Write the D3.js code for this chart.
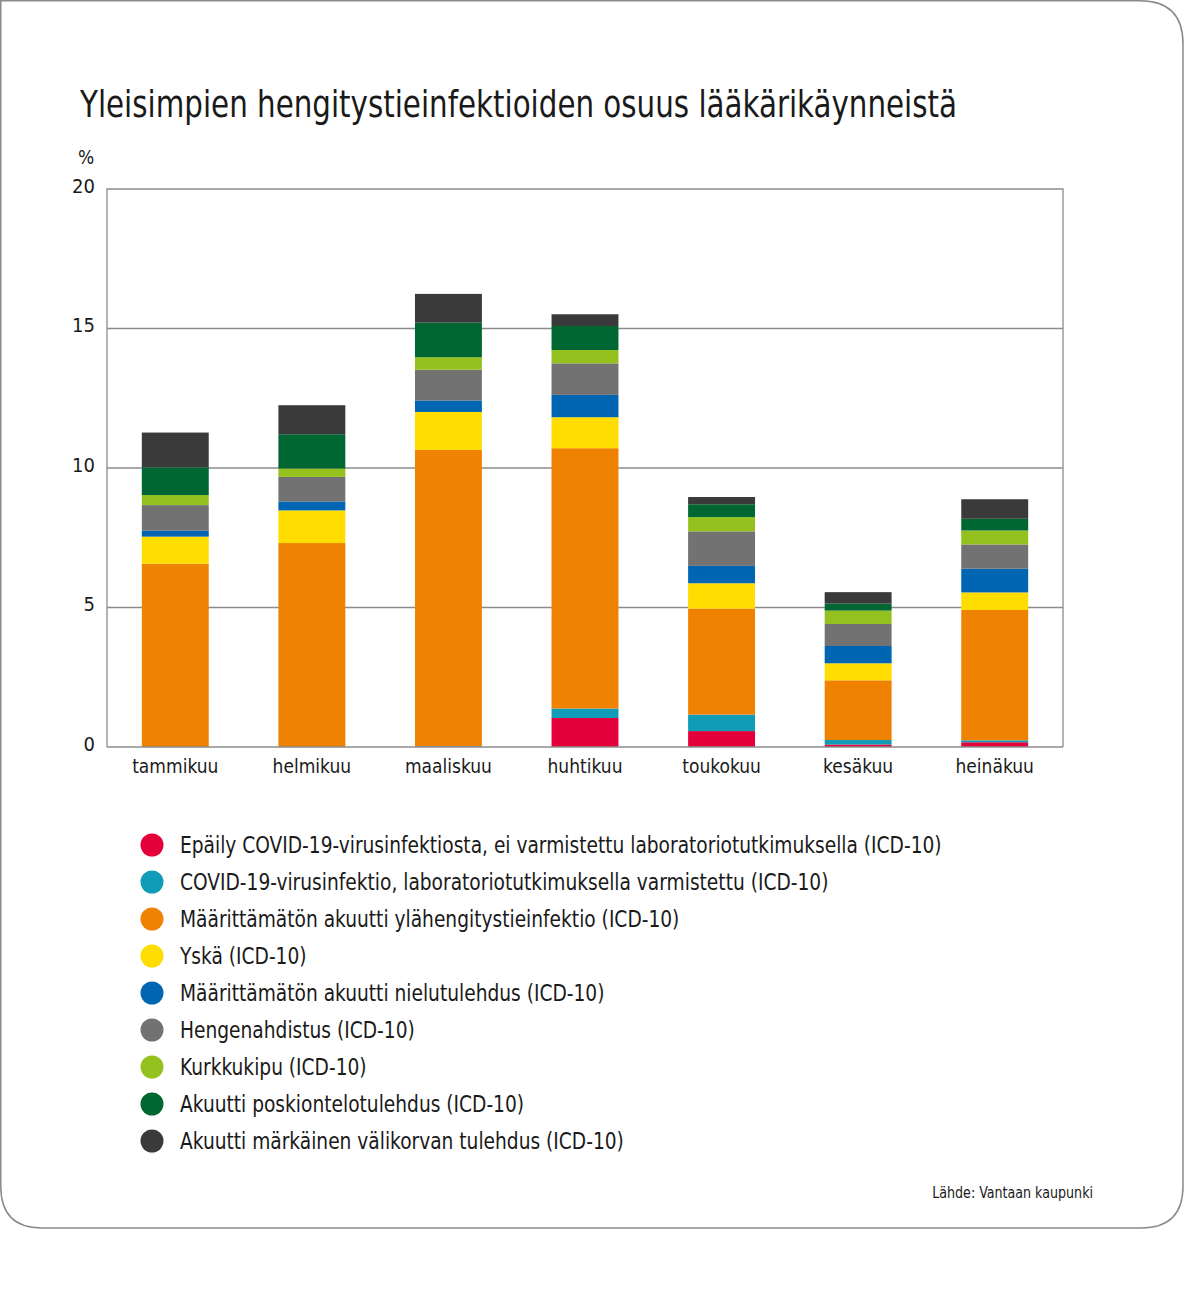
<!DOCTYPE html>
<html><head><meta charset="utf-8">
<script src="https://cdn.jsdelivr.net/npm/d3@7"></script>
<style>
body{margin:0;background:#fff;}
svg{display:block;}
text{font-family:"Liberation Sans Narrow","DejaVu Sans Condensed","Open Sans",sans-serif;fill:#1a1a1a;}
</style></head>
<body>
<svg id="chart" width="1200" height="1313"></svg>
<script>
const months = ["tammikuu","helmikuu","maaliskuu","huhtikuu","toukokuu","kesäkuu","heinäkuu"];
const seriesNames = [
  "Epäily COVID-19-virusinfektiosta, ei varmistettu laboratoriotutkimuksella (ICD-10)",
  "COVID-19-virusinfektio, laboratoriotutkimuksella varmistettu (ICD-10)",
  "Määrittämätön akuutti ylähengitystieinfektio (ICD-10)",
  "Yskä (ICD-10)",
  "Määrittämätön akuutti nielutulehdus (ICD-10)",
  "Hengenahdistus (ICD-10)",
  "Kurkkukipu (ICD-10)",
  "Akuutti poskiontelotulehdus (ICD-10)",
  "Akuutti märkäinen välikorvan tulehdus (ICD-10)"
];
const colors = ["#e4003a","#109cb6","#ef8200","#ffdd00","#0066b3","#727272","#95c11f","#006632","#3a3a3a"];
// values per series, in month order
const covidSuspected = [0, 0, 0, 1.04, 0.57, 0.09, 0.17];
const covidConfirmed = [0, 0, 0.03, 0.34, 0.59, 0.16, 0.07];
const upperResp     = [6.57, 7.31, 10.62, 9.33, 3.80, 2.14, 4.67];
const cough         = [0.97, 1.17, 1.36, 1.11, 0.91, 0.61, 0.63];
const pharyngitis   = [0.22, 0.32, 0.41, 0.80, 0.62, 0.62, 0.85];
const dyspnea       = [0.91, 0.88, 1.10, 1.13, 1.24, 0.79, 0.87];
const soreThroat    = [0.36, 0.30, 0.45, 0.48, 0.51, 0.48, 0.50];
const sinusitis     = [0.99, 1.23, 1.24, 0.86, 0.46, 0.25, 0.42];
const otitis        = [1.25, 1.04, 1.03, 0.42, 0.26, 0.41, 0.70];
const yTicks = [0, 5, 10, 15, 20];

const seriesValues = [covidSuspected, covidConfirmed, upperResp, cough, pharyngitis, dyspnea, soreThroat, sinusitis, otitis];
const keys = seriesNames.map((_, i) => "s" + i);
const table = months.map((m, j) => {
  const row = {month: m};
  keys.forEach((k, i) => row[k] = seriesValues[i][j]);
  return row;
});

const svg = d3.select("#chart");

// card
svg.append("path")
  .attr("d", "M -2 0.75 L 1140 0.75 Q 1183 0.75 1183 44 L 1183 1186 Q 1183 1228 1141 1228 L 42 1228 Q 0.75 1228 0.75 1186 L 0.75 0")
  .attr("fill", "none").attr("stroke", "#8a8a8a").attr("stroke-width", 1.5);

svg.append("text").attr("x", 80).attr("y", 117)
  .attr("font-size", 38).attr("textLength", 877).attr("lengthAdjust", "spacingAndGlyphs")
  .style("font-weight", 300)
  .text("Yleisimpien hengitystieinfektioiden osuus lääkärikäynneistä");

const pLeft = 107, pRight = 1063, pTop = 189, pBottom = 747;
const x = d3.scaleBand().domain(months).range([pLeft, pRight]).paddingInner(0.51).paddingOuter(0.255);
const y = d3.scaleLinear().domain([0, 20]).range([pBottom, pTop]);

// gridlines
svg.append("g").selectAll("line").data(yTicks.filter(t => t > 0 && t < 20)).join("line")
  .attr("x1", pLeft).attr("x2", pRight).attr("y1", d => y(d)).attr("y2", d => y(d))
  .attr("stroke", "#8c8c8c").attr("stroke-width", 1.3);

// frame
svg.append("path")
  .attr("d", `M${pLeft},${pBottom} V${pTop} H${pRight} V${pBottom}`)
  .attr("fill", "none").attr("stroke", "#8c8c8c").attr("stroke-width", 1.3);

// bars
const stacked = d3.stack().keys(keys)(table);
svg.append("g").selectAll("g").data(stacked).join("g")
  .attr("fill", (d, i) => colors[i])
  .selectAll("rect").data(d => d).join("rect")
  .attr("x", d => x(d.data.month))
  .attr("width", x.bandwidth())
  .attr("y", d => y(d[1]))
  .attr("height", d => Math.max(0, y(d[0]) - y(d[1])));

// baseline
svg.append("line").attr("x1", pLeft).attr("x2", pRight).attr("y1", pBottom).attr("y2", pBottom)
  .attr("stroke", "#8c8c8c").attr("stroke-width", 1.5);

// y axis labels
const yAxis = d3.axisLeft(y).tickValues(yTicks).tickSize(0).tickPadding(12);
const gy = svg.append("g").attr("transform", `translate(${pLeft},0)`).call(yAxis);
gy.select(".domain").remove();
gy.selectAll("text").attr("font-size", 20).attr("dy", "0.15em")
  .style("font-family", '"Liberation Sans Narrow","DejaVu Sans Condensed",sans-serif').attr("fill", "#1a1a1a");
svg.append("text").attr("x", 86).attr("y", 164).attr("text-anchor", "middle").attr("font-size", 19).text("%");

// x axis labels
const xAxis = d3.axisBottom(x).tickSize(0).tickPadding(13);
const gx = svg.append("g").attr("transform", `translate(0,${pBottom})`).call(xAxis);
gx.select(".domain").remove();
gx.selectAll("text").attr("font-size", 19)
  .style("font-family", '"Liberation Sans Narrow","DejaVu Sans Condensed",sans-serif').attr("fill", "#1a1a1a");

// legend
const lg = svg.append("g").selectAll("g").data(seriesNames).join("g")
  .attr("transform", (d, i) => `translate(152,${845 + i * 37})`);
lg.append("circle").attr("r", 11.5).attr("fill", (d, i) => colors[i]);
lg.append("text").attr("transform", "translate(28,8) scale(0.9,1)").attr("font-size", 23).text(d => d);

svg.append("text").attr("transform", "translate(1093,1198) scale(0.94,1)").attr("text-anchor", "end").attr("font-size", 15)
  .text("Lähde: Vantaan kaupunki");
</script>
</body></html>
